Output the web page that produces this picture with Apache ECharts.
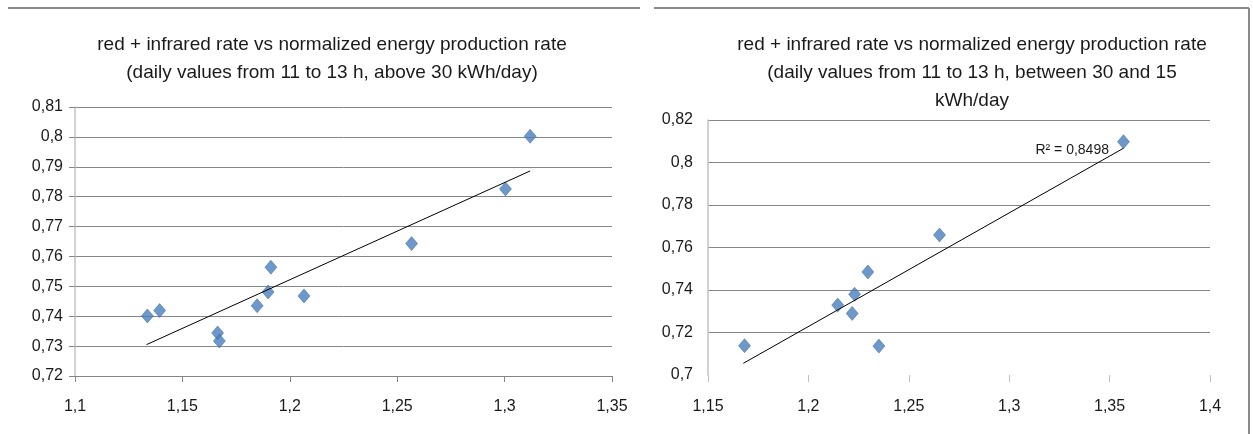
<!DOCTYPE html>
<html>
<head>
<meta charset="utf-8">
<script src="https://cdn.jsdelivr.net/npm/echarts@6/dist/echarts.min.js"></script>
<style>
html,body{margin:0;padding:0;background:#ffffff;}
#c{width:1253px;height:434px;}
</style>
</head>
<body>
<div id="c"></div>
<script>
// ---- data ----
const leftTitle = 'red + infrared rate vs normalized energy production rate\n(daily values from 11 to 13 h, above 30 kWh/day)';
const rightTitle = 'red + infrared rate vs normalized energy production rate\n(daily values from 11 to 13 h, between 30 and 15\nkWh/day';

const leftX = [1.1337, 1.1394, 1.1664, 1.1672, 1.1848, 1.1899, 1.1912, 1.2066, 1.2567, 1.3004, 1.3119];
const leftY = [0.7401, 0.7419, 0.7344, 0.7317, 0.7435, 0.7481, 0.7564, 0.7468, 0.7643, 0.7826, 0.8002];
const leftTrendX = [1.1333, 1.3119];
const leftTrendY = [0.7305, 0.7886];

const rightX = [1.1682, 1.2146, 1.2218, 1.2230, 1.2296, 1.2351, 1.2653, 1.3569];
const rightY = [0.7138, 0.7329, 0.7290, 0.7380, 0.7485, 0.7136, 0.7659, 0.8098];
const rightTrendX = [1.1676, 1.3569];
const rightTrendY = [0.7055, 0.8067];
const rightR2Label = 'R\u00B2 = 0,8498';

const leftXTicks = [1.1, 1.15, 1.2, 1.25, 1.3, 1.35];
const leftYTicks = [0.72, 0.73, 0.74, 0.75, 0.76, 0.77, 0.78, 0.79, 0.8, 0.81];
const rightXTicks = [1.15, 1.2, 1.25, 1.3, 1.35, 1.4];
const rightYTicks = [0.7, 0.72, 0.74, 0.76, 0.78, 0.8, 0.82];

// ---- chart ----
const FONT = 'Liberation Sans';
const GRID = '#868686';
const AXIS = '#c2c2c2';
const MARK = '#4A7EBB';
const fmt = v => String(+(+v).toFixed(4)).replace('.', ',');
const step = a => +(a[1] - a[0]).toFixed(4);

function pairs(xs, ys) { return xs.map((x, i) => [x, ys[i]]); }

const chart = echarts.init(document.getElementById('c'), null, {renderer: 'canvas'});

const labelStyle = {color: '#1a1a1a', fontFamily: FONT, fontSize: 16};
const last = a => a[a.length - 1];

chart.setOption({
  backgroundColor: '#ffffff',
  animation: false,
  title: [
    {text: leftTitle, left: 327, top: 26, textAlign: 'center',
     textStyle: {fontFamily: FONT, fontSize: 19, fontWeight: 'normal', color: '#1a1a1a', lineHeight: 28}},
    {text: rightTitle, left: 967, top: 26, textAlign: 'center',
     textStyle: {fontFamily: FONT, fontSize: 19, fontWeight: 'normal', color: '#1a1a1a', lineHeight: 28}}
  ],
  graphic: [
    {type: 'line', shape: {x1: 8, y1: 8, x2: 640, y2: 8}, style: {stroke: '#8a8a8a', lineWidth: 2}},
    {type: 'line', shape: {x1: 654, y1: 8, x2: 1249, y2: 8}, style: {stroke: '#8a8a8a', lineWidth: 2}},
    {type: 'line', shape: {x1: 1249, y1: 8, x2: 1249, y2: 434}, style: {stroke: '#8a8a8a', lineWidth: 2}}
  ],
  grid: [
    {left: 75, top: 107, width: 537, height: 269},
    {left: 708, top: 120, width: 502, height: 255}
  ],
  xAxis: [
    {gridIndex: 0, type: 'value', min: leftXTicks[0], max: last(leftXTicks), interval: step(leftXTicks),
     axisLine: {show: true, lineStyle: {color: GRID, width: 1}},
     axisTick: {show: true, length: 6, lineStyle: {color: GRID}},
     axisLabel: Object.assign({margin: 23, formatter: fmt}, labelStyle),
     splitLine: {show: false}},
    {gridIndex: 1, type: 'value', min: rightXTicks[0], max: last(rightXTicks), interval: step(rightXTicks),
     axisLine: {show: false},
     axisTick: {show: true, length: 7, lineStyle: {color: AXIS}},
     axisLabel: Object.assign({margin: 24, formatter: fmt}, labelStyle),
     splitLine: {show: false}}
  ],
  yAxis: [
    {gridIndex: 0, type: 'value', min: leftYTicks[0], max: last(leftYTicks), interval: step(leftYTicks),
     axisLine: {show: true, lineStyle: {color: AXIS, width: 1.5}},
     axisTick: {show: true, length: 6, lineStyle: {color: GRID}},
     axisLabel: Object.assign({margin: 12, formatter: fmt}, labelStyle),
     splitLine: {show: true, lineStyle: {color: GRID, width: 1}}},
    {gridIndex: 1, type: 'value', min: rightYTicks[0], max: last(rightYTicks), interval: step(rightYTicks),
     axisLine: {show: true, lineStyle: {color: AXIS, width: 1.5}},
     axisTick: {show: false},
     axisLabel: Object.assign({margin: 15, formatter: fmt}, labelStyle),
     splitLine: {show: true, showMinLine: false, lineStyle: {color: GRID, width: 1}}}
  ],
  series: [
    {type: 'scatter', xAxisIndex: 0, yAxisIndex: 0, data: pairs(leftX, leftY),
     symbol: 'diamond', symbolSize: [12, 14],
     itemStyle: {color: MARK, borderColor: '#35649c', borderWidth: 0.6}, z: 3},
    {type: 'line', xAxisIndex: 0, yAxisIndex: 0, data: pairs(leftTrendX, leftTrendY),
     symbol: 'none', lineStyle: {color: '#000000', width: 1}, z: 4, silent: true},
    {type: 'scatter', xAxisIndex: 1, yAxisIndex: 1, data: pairs(rightX, rightY),
     symbol: 'diamond', symbolSize: [12, 14],
     itemStyle: {color: MARK, borderColor: '#35649c', borderWidth: 0.6}, z: 3},
    {type: 'line', xAxisIndex: 1, yAxisIndex: 1, data: pairs(rightTrendX, rightTrendY),
     symbol: 'none', lineStyle: {color: '#000000', width: 1}, z: 4, silent: true,
     markPoint: {
       silent: true,
       symbol: 'circle', symbolSize: 1,
       itemStyle: {color: 'rgba(0,0,0,0)'},
       label: {show: true, position: 'left', distance: 14, offset: [0, 2],
               color: '#1a1a1a', fontFamily: FONT, fontSize: 14, formatter: rightR2Label},
       data: [{coord: [last(rightTrendX), last(rightTrendY)]}]
     }}
  ]
});
</script>
</body>
</html>
